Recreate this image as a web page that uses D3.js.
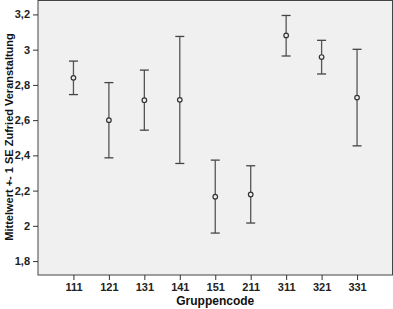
<!DOCTYPE html>
<html><head><meta charset="utf-8">
<script src="https://cdn.jsdelivr.net/npm/d3@7"></script>
<style>body{margin:0;background:#fff}svg{display:block}text{font-family:"Liberation Sans",Arial,sans-serif}</style>
</head><body><svg id="c" width="393" height="309"></svg>
<script>
const groups = ["111","121","131","141","151","211","311","321","331"];
const means = [2.84,2.60,2.713,2.715,2.165,2.178,3.081,2.958,2.728];
const upper = [2.935,2.813,2.884,3.075,2.373,2.341,3.194,3.053,3.002];
const lower = [2.745,2.386,2.543,2.354,1.959,2.016,2.964,2.862,2.454];
const yTicks = [1.8,2,2.2,2.4,2.6,2.8,3,3.2];

const svg = d3.select("#c");
const L=38, R=392.5, T=0.5, B=275;
const x = d3.scalePoint().domain(groups).range([L,R]).padding(1);
const y = d3.scaleLinear().domain([1.721,3.279]).range([B,T]);
const fmt = d => String(d).replace(".",",");

svg.append("rect").attr("x",L).attr("y",T).attr("width",R-L).attr("height",B-T)
  .attr("fill","#f0f0f0").attr("stroke","#444").attr("stroke-width",1);

const ya = svg.append("g").attr("transform",`translate(${L},0)`)
  .call(d3.axisLeft(y).tickValues(yTicks).tickFormat(fmt).tickSize(5).tickPadding(3));
ya.select(".domain").remove();
ya.selectAll("line").attr("stroke","#333");
ya.selectAll("text").attr("font-size",11).attr("font-weight","bold").attr("fill","#222");

const xa = svg.append("g").attr("transform",`translate(0,${B})`)
  .call(d3.axisBottom(x).tickSize(5).tickPadding(3));
xa.select(".domain").remove();
xa.selectAll("line").attr("stroke","#333");
xa.selectAll("text").attr("font-size",11).attr("font-weight","bold").attr("fill","#222");

const g = svg.append("g");
const data = groups.map((k,i)=>({k,m:means[i],u:upper[i],l:lower[i]}));
const cap = 4.5;
data.forEach(d=>{
  const cx = x(d.k);
  g.append("line").attr("x1",cx).attr("x2",cx).attr("y1",y(d.u)).attr("y2",y(d.l)).attr("stroke","#555").attr("stroke-width",1.3);
  g.append("line").attr("x1",cx-cap).attr("x2",cx+cap).attr("y1",y(d.u)).attr("y2",y(d.u)).attr("stroke","#444").attr("stroke-width",1.3);
  g.append("line").attr("x1",cx-cap).attr("x2",cx+cap).attr("y1",y(d.l)).attr("y2",y(d.l)).attr("stroke","#444").attr("stroke-width",1.3);
  g.append("circle").attr("cx",cx).attr("cy",y(d.m)).attr("r",2.3).attr("fill","#f0f0f0").attr("stroke","#333").attr("stroke-width",1.2);
});

svg.append("text").attr("x",(L+R)/2).attr("y",305).attr("text-anchor","middle")
  .attr("font-size",12).attr("font-weight","bold").attr("fill","#111").text("Gruppencode");
svg.append("text").attr("transform",`translate(12.5,137) rotate(-90)`).attr("text-anchor","middle")
  .attr("font-size",11).attr("font-weight","bold").attr("fill","#111").text("Mittelwert +- 1 SE Zufried Veranstaltung");
</script></body></html>
